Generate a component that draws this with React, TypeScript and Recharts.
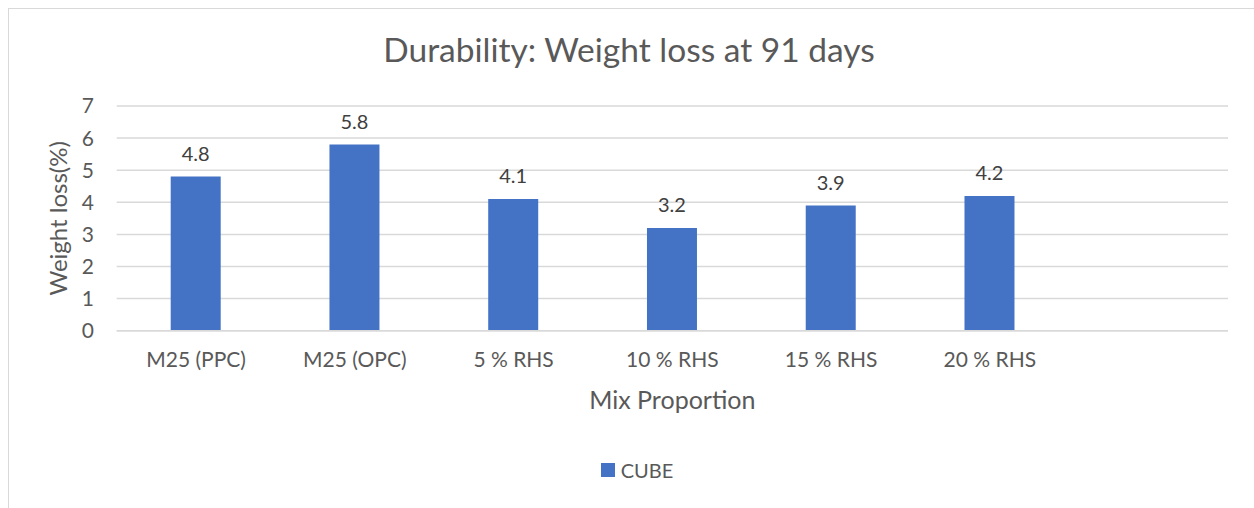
import { BarChart, Bar, XAxis, YAxis, CartesianGrid, Legend, LabelList } from "recharts"

const categories = ["M25 (PPC)", "M25 (OPC)", "5 % RHS", "10 % RHS", "15 % RHS", "20 % RHS", ""]
const cubeValues = [4.8, 5.8, 4.1, 3.2, 3.9, 4.2, null]
const yTicks = [0, 1, 2, 3, 4, 5, 6, 7]

const data = categories.map((name, i) => ({ name, cube: cubeValues[i] }))

const FONT = "Lato, 'Open Sans', sans-serif"
const TEXT = "#595959"

const renderLegend = () => (
  <div style={{ display: "flex", justifyContent: "center", alignItems: "center", paddingLeft: 20 }}>
    <div style={{ width: 14, height: 14, background: "#4472c4", marginRight: 6 }} />
    <span style={{ fontFamily: FONT, fontSize: 20, color: TEXT }}>CUBE</span>
  </div>
)

export default function App() {
  return (
    <div
      style={{
        position: "absolute",
        left: 0,
        top: 0,
        width: 1254,
        height: 508,
        overflow: "hidden",
        background: "#fff",
      }}
    >
      <div
        style={{
          position: "absolute",
          left: 8,
          top: 8,
          width: 1400,
          height: 700,
          border: "1px solid #d9d9d9",
        }}
      />
      <div
        style={{
          position: "absolute",
          left: 0,
          top: 27,
          width: 1258,
          textAlign: "center",
          fontFamily: FONT,
          fontSize: 33.5,
          color: TEXT,
          lineHeight: "44px",
        }}
      >
        Durability: Weight loss at 91 days
      </div>
      <div style={{ position: "absolute", left: 0, top: 0 }}>
        <BarChart
          width={1254}
          height={508}
          data={data}
          margin={{ top: 106, right: 26, left: 56.7, bottom: 77.3 }}
        >
          <CartesianGrid vertical={false} stroke="#d9d9d9" strokeWidth={1.5} />
          <XAxis
            dataKey="name"
            height={100}
            tickLine={false}
            tickSize={0}
            tickMargin={21}
            axisLine={{ stroke: "#d9d9d9", strokeWidth: 1.5 }}
            tick={{ fill: TEXT, fontSize: 21, fontFamily: FONT }}
            interval={0}
            label={{
              value: "Mix Proportion",
              position: "insideBottom",
              offset: 22,
              fill: TEXT,
              fontSize: 25,
              fontFamily: FONT,
            }}
          />
          <YAxis
            width={60}
            domain={[0, 7]}
            ticks={yTicks}
            tickLine={false}
            tickSize={0}
            tickMargin={22.7}
            axisLine={false}
            tick={{ fill: TEXT, fontSize: 21, fontFamily: FONT }}
            label={{
              value: "Weight loss(%)",
              angle: -90,
              position: "insideLeft",
              offset: 0,
              dx: 2,
              fill: TEXT,
              fontSize: 24,
              fontFamily: FONT,
              style: { textAnchor: "middle" },
            }}
          />
          <Legend
            verticalAlign="middle"
            layout="horizontal"
            content={renderLegend}
            wrapperStyle={{ top: 458, left: 0, width: 1254 }}
          />
          <Bar dataKey="cube" name="CUBE" fill="#4472c4" barSize={50} isAnimationActive={false}>
            <LabelList
              dataKey="cube"
              position="top"
              offset={16}
              fill="#404040"
              fontSize={20}
              fontFamily={FONT}
            />
          </Bar>
        </BarChart>
      </div>
    </div>
  )
}
